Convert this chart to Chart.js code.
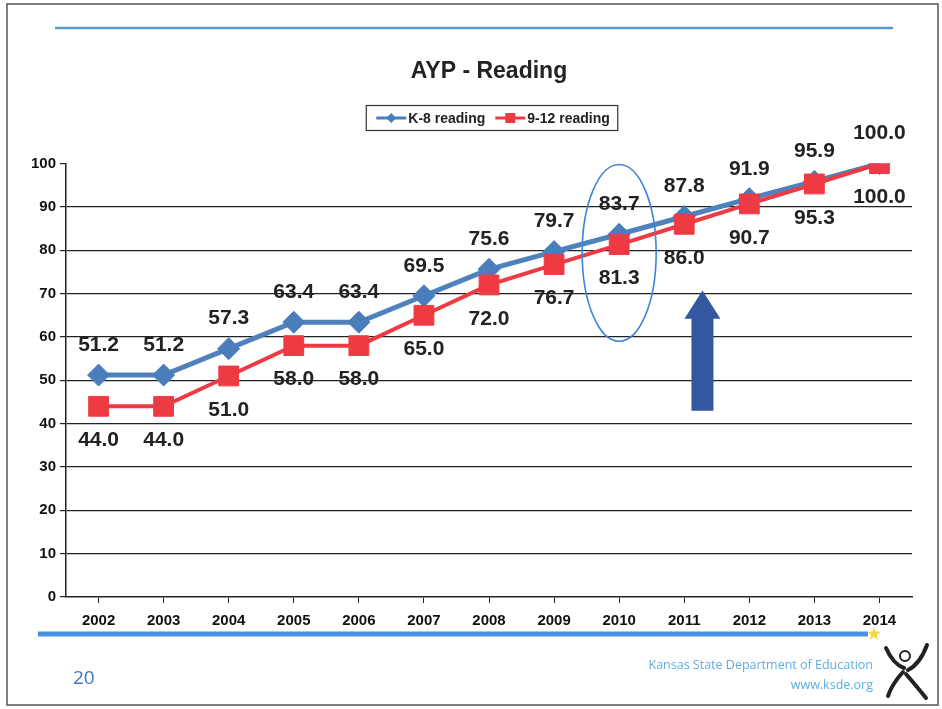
<!DOCTYPE html>
<html>
<head>
<meta charset="utf-8">
<script src="https://cdn.jsdelivr.net/npm/chart.js@4.4.0/dist/chart.umd.min.js"></script>
<style>
  html, body { margin: 0; padding: 0; background: #fff; }
  #ayp { display: block; }
</style>
</head>
<body>
<canvas id="ayp" width="942" height="709"></canvas>
<script>
// data
const years = ['2002', '2003', '2004', '2005', '2006', '2007', '2008', '2009', '2010', '2011', '2012', '2013', '2014'];
const k8Reading = [51.2, 51.2, 57.3, 63.4, 63.4, 69.5, 75.6, 79.7, 83.7, 87.8, 91.9, 95.9, 100.0];
const hsReading = [44.0, 44.0, 51.0, 58.0, 58.0, 65.0, 72.0, 76.7, 81.3, 86.0, 90.7, 95.3, 100.0];
const seriesNames = ['K-8 reading', '9-12 reading'];
const yMin = 0, yMax = 100, yStep = 10;

const FONT = "'Liberation Sans', Arial, sans-serif";
const BLUE = '#4A7EBB';
const RED = '#EE3B43';

// little marker drawn as line + point, used by the legend
function drawMarker(ctx, x, y, color, style) {
    ctx.save();
    ctx.strokeStyle = color;
    ctx.fillStyle = color;
    ctx.lineWidth = 3;
    ctx.beginPath();
    ctx.moveTo(x - 15, y);
    ctx.lineTo(x + 15, y);
    ctx.stroke();
    ctx.beginPath();
    if (style === 'diamond') {
        ctx.moveTo(x, y - 5); ctx.lineTo(x + 5, y); ctx.lineTo(x, y + 5); ctx.lineTo(x - 5, y);
        ctx.closePath();
    } else {
        ctx.rect(x - 5, y - 5, 10, 10);
    }
    ctx.fill();
    ctx.restore();
}

const valueLabels = {
    id: 'valueLabels',
    afterDatasetsDraw(chart) {
        const ctx = chart.ctx;
        ctx.save();
        ctx.font = 'bold 21px ' + FONT;
        ctx.fillStyle = '#222';
        ctx.textAlign = 'center';
        ctx.textBaseline = 'middle';
        chart.data.datasets.forEach((ds, i) => {
            const meta = chart.getDatasetMeta(i);
            const off = ds.labelOffset;
            meta.data.forEach((pt, j) => {
                ctx.fillText(ds.data[j].toFixed(1), pt.x, pt.y + off);
            });
        });
        ctx.restore();
    }
};

const slideDecor = {
    id: 'slideDecor',
    beforeDraw(chart) {
        const ctx = chart.ctx;
        ctx.save();
        ctx.fillStyle = '#fff';
        ctx.fillRect(0, 0, chart.width, chart.height);
        ctx.restore();
    },
    afterDraw(chart) {
        const ctx = chart.ctx;
        const area = chart.chartArea;
        const x = chart.scales.x, y = chart.scales.y;
        ctx.save();

        // scanned page frame
        ctx.strokeStyle = '#555';
        ctx.lineWidth = 1.5;
        ctx.strokeRect(7, 4, 931, 701);

        // blue rules top and bottom
        ctx.strokeStyle = '#5B9BD5';
        ctx.lineWidth = 2.5;
        ctx.beginPath(); ctx.moveTo(55, 28); ctx.lineTo(893, 28); ctx.stroke();
        ctx.strokeStyle = '#4A90E0';
        ctx.lineWidth = 5;
        ctx.beginPath(); ctx.moveTo(38, 634); ctx.lineTo(868, 634); ctx.stroke();

        // legend in a box
        ctx.font = 'bold 14px ' + FONT;
        ctx.textBaseline = 'middle';
        ctx.textAlign = 'left';
        const w1 = ctx.measureText(seriesNames[0]).width;
        const w2 = ctx.measureText(seriesNames[1]).width;
        const total = 10 + 30 + 2 + w1 + 10 + 30 + 2 + w2 + 8;
        const lx = (area.left + area.right) / 2 + 3 - total / 2;
        const ly = 118;
        ctx.strokeStyle = '#333';
        ctx.lineWidth = 1.2;
        ctx.strokeRect(lx, ly - 12.5, total, 25);
        let cx = lx + 10;
        drawMarker(ctx, cx + 15, ly, BLUE, 'diamond');
        ctx.fillStyle = '#222';
        ctx.fillText(seriesNames[0], cx + 32, ly + 1);
        cx += 32 + w1 + 10;
        drawMarker(ctx, cx + 15, ly, RED, 'square');
        ctx.fillStyle = '#222';
        ctx.fillText(seriesNames[1], cx + 32, ly + 1);

        // ellipse round 2010
        const ex = x.getPixelForValue(8);
        const eTop = y.getPixelForValue(99.8), eBot = y.getPixelForValue(59);
        ctx.strokeStyle = '#3D85D8';
        ctx.lineWidth = 1.6;
        ctx.beginPath();
        ctx.ellipse(ex, (eTop + eBot) / 2, 37, (eBot - eTop) / 2, 0, 0, Math.PI * 2);
        ctx.stroke();

        // up arrow next to 2011
        const ax = x.getPixelForValue(9) + (x.getPixelForValue(10) - x.getPixelForValue(9)) * 0.28;
        const tip = y.getPixelForValue(70.7), neck = y.getPixelForValue(64.2), foot = y.getPixelForValue(43);
        ctx.fillStyle = '#34589F';
        ctx.beginPath();
        ctx.moveTo(ax, tip);
        ctx.lineTo(ax + 18, neck);
        ctx.lineTo(ax + 11, neck);
        ctx.lineTo(ax + 11, foot);
        ctx.lineTo(ax - 11, foot);
        ctx.lineTo(ax - 11, neck);
        ctx.lineTo(ax - 18, neck);
        ctx.closePath();
        ctx.fill();

        // footer
        ctx.fillStyle = '#4472C4';
        ctx.font = '19px "Open Sans", sans-serif';
        ctx.textAlign = 'left';
        ctx.fillText('20', 73, 679);
        ctx.fillStyle = '#5BB0E0';
        ctx.font = '12.5px "Open Sans", sans-serif';
        ctx.textAlign = 'right';
        ctx.fillText('Kansas State Department of Education', 873, 665);
        ctx.fillText('www.ksde.org', 873, 685);

        // small star at the end of the rule
        ctx.fillStyle = '#F2D84B';
        ctx.beginPath();
        for (let k = 0; k < 10; k++) {
            const r = k % 2 ? 3 : 7;
            const a = -Math.PI / 2 + k * Math.PI / 5;
            ctx.lineTo(874 + r * Math.cos(a), 634 + r * Math.sin(a));
        }
        ctx.closePath();
        ctx.fill();

        // rough ksde figure
        ctx.strokeStyle = '#222';
        ctx.lineCap = 'round';
        ctx.lineWidth = 2;
        ctx.beginPath(); ctx.arc(905, 656, 5, 0, Math.PI * 2); ctx.stroke();
        ctx.lineWidth = 4;
        ctx.beginPath(); ctx.moveTo(886, 648); ctx.quadraticCurveTo(893, 664, 904, 668); ctx.stroke();
        ctx.beginPath(); ctx.moveTo(927, 645); ctx.quadraticCurveTo(920, 664, 908, 670); ctx.stroke();
        ctx.beginPath(); ctx.moveTo(903, 672); ctx.quadraticCurveTo(892, 684, 888, 696); ctx.stroke();
        ctx.beginPath(); ctx.moveTo(906, 674); ctx.quadraticCurveTo(918, 688, 926, 698); ctx.stroke();

        ctx.restore();
    }
};

const ctx = document.getElementById('ayp').getContext('2d');
new Chart(ctx, {
    type: 'line',
    data: {
        labels: years,
        datasets: [{
            label: seriesNames[0],
            data: k8Reading,
            borderColor: '#4F81BD',
            backgroundColor: BLUE,
            borderWidth: 5,
            pointStyle: 'rectRot',
            pointRadius: 11,
            pointBorderWidth: 1,
            pointBorderColor: BLUE,
            order: 1,
            labelOffset: -30
        }, {
            label: seriesNames[1],
            data: hsReading,
            borderColor: RED,
            backgroundColor: RED,
            borderWidth: 4,
            pointStyle: 'rect',
            pointRadius: 14,
            pointBorderWidth: 1,
            pointBorderColor: RED,
            order: 0,
            labelOffset: 34
        }]
    },
    options: {
        responsive: false,
        animation: false,
        devicePixelRatio: 1,
        layout: { padding: { top: 0, left: 27, right: 30, bottom: 70 } },
        plugins: {
            legend: { display: false },
            tooltip: { enabled: false },
            title: {
                display: true,
                fullSize: false,
                text: 'AYP - Reading',
                color: '#222',
                font: { family: FONT, size: 23, weight: 'bold', lineHeight: 1.2 },
                padding: { top: 58, bottom: 78 }
            }
        },
        scales: {
            x: {
                offset: true,
                border: { color: '#222', width: 1.5 },
                grid: { drawOnChartArea: false, drawTicks: true, tickLength: 6, color: '#222' },
                ticks: { color: '#111', padding: 9, font: { family: FONT, size: 15, weight: 'bold' } }
            },
            y: {
                min: yMin,
                max: yMax,
                border: { color: '#222', width: 1.5 },
                grid: {
                    color: c => (c.tick.value === yMin || c.tick.value === yMax) ? 'rgba(0,0,0,0)' : '#222',
                    tickColor: '#222',
                    tickLength: 6,
                    lineWidth: 1.2
                },
                ticks: { stepSize: yStep, color: '#111', padding: 4, font: { family: FONT, size: 15, weight: 'bold' } }
            }
        }
    },
    plugins: [valueLabels, slideDecor]
});
</script>
</body>
</html>
